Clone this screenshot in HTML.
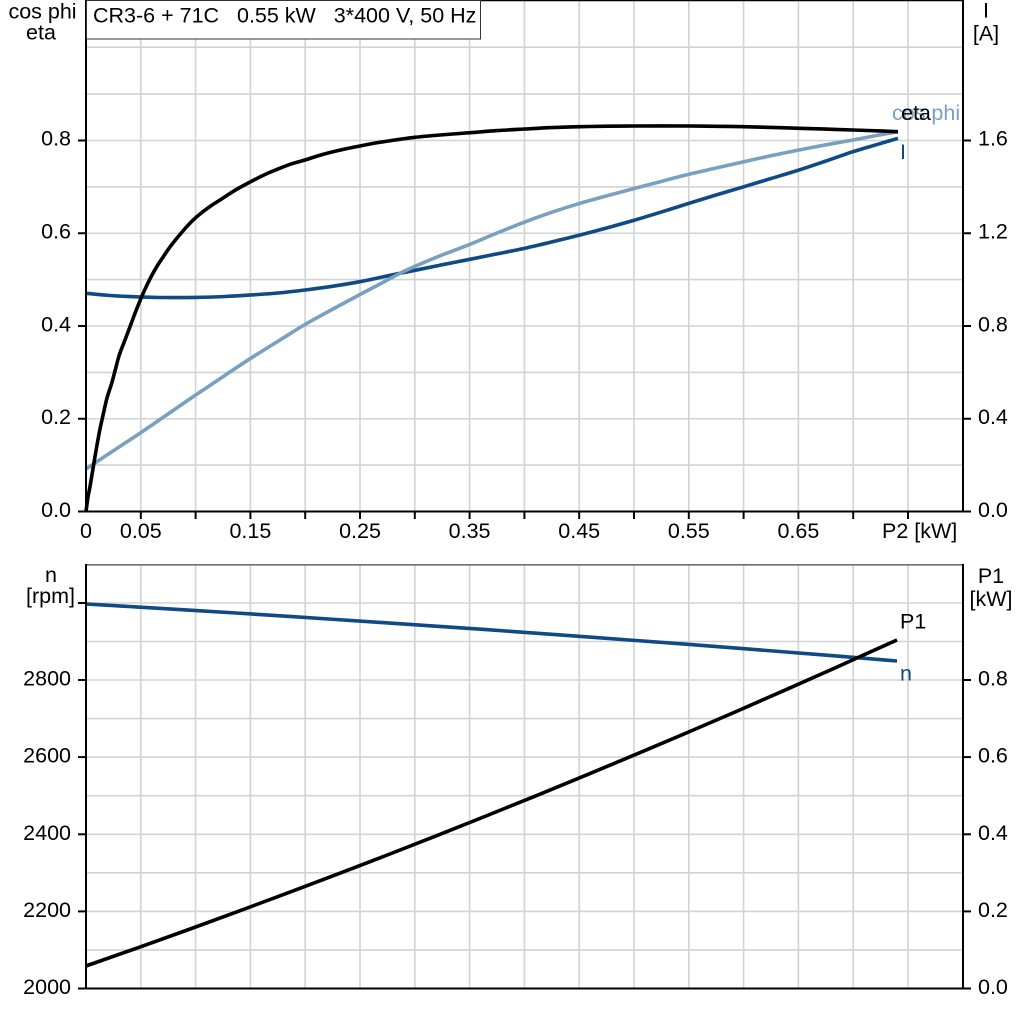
<!DOCTYPE html>
<html>
<head>
<meta charset="utf-8">
<style>
  html,body{margin:0;padding:0;background:#fff;}
  svg{display:block;}
  text{font-family:"Liberation Sans", Arial, sans-serif; font-size:21.5px; fill:#000;}
</style>
</head>
<body>
<svg id="chart" width="1024" height="1024" viewBox="0 0 1024 1024" xmlns="http://www.w3.org/2000/svg">
  <rect x="0" y="0" width="1024" height="1024" fill="#fff"/>

  <!-- ================= TOP CHART ================= -->
  <g stroke="#d2d3d5" stroke-width="1.6" fill="none">
    <line x1="140.8" y1="0" x2="140.8" y2="511.5"/>
    <line x1="195.6" y1="0" x2="195.6" y2="511.5"/>
    <line x1="250.4" y1="0" x2="250.4" y2="511.5"/>
    <line x1="305.2" y1="0" x2="305.2" y2="511.5"/>
    <line x1="360" y1="0" x2="360" y2="511.5"/>
    <line x1="414.8" y1="0" x2="414.8" y2="511.5"/>
    <line x1="469.6" y1="0" x2="469.6" y2="511.5"/>
    <line x1="524.4" y1="0" x2="524.4" y2="511.5"/>
    <line x1="579.2" y1="0" x2="579.2" y2="511.5"/>
    <line x1="634" y1="0" x2="634" y2="511.5"/>
    <line x1="688.8" y1="0" x2="688.8" y2="511.5"/>
    <line x1="743.6" y1="0" x2="743.6" y2="511.5"/>
    <line x1="798.4" y1="0" x2="798.4" y2="511.5"/>
    <line x1="853.2" y1="0" x2="853.2" y2="511.5"/>
    <line x1="908" y1="0" x2="908" y2="511.5"/>
    <line x1="86" y1="465.1" x2="963" y2="465.1"/>
    <line x1="86" y1="418.75" x2="963" y2="418.75"/>
    <line x1="86" y1="372.4" x2="963" y2="372.4"/>
    <line x1="86" y1="326" x2="963" y2="326"/>
    <line x1="86" y1="279.6" x2="963" y2="279.6"/>
    <line x1="86" y1="233.25" x2="963" y2="233.25"/>
    <line x1="86" y1="186.9" x2="963" y2="186.9"/>
    <line x1="86" y1="140.5" x2="963" y2="140.5"/>
    <line x1="86" y1="94.1" x2="963" y2="94.1"/>
    <line x1="86" y1="47.2" x2="963" y2="47.2"/>
  </g>

  <line x1="86" y1="0.5" x2="963" y2="0.5" stroke="#000" stroke-width="1.5"/>

  <g fill="none" stroke-width="3.6" stroke-linejoin="round" stroke-linecap="butt">
    <polyline class="smooth" stroke="#0e4a83" points="86,293.3 110,295.5 140.7,297 160,297.5 195.7,297.4 225,296.5 250.7,295 278,293 305,290 333,286.2 360,281.7 380,277.5 400,273.3 415,270.3 440,265.2 470,259.3 497,253.9 525,248.2 552,241.9 580,235 608,227.6 635,220 662,211.8 689,203.3 716,195 744,186.7 771,178.5 799,170 826,161 853,151.7 876,144.8 898,138.3"/>
    <polyline class="smooth" stroke="#7aa0c0" points="86,469 113,451 140.7,432.7 168,414 195.7,395 223,376.7 250.7,358.3 280,340 305,324.5 333,309 360,294.5 380,284 400,273.3 415,266.3 440,255.8 470,244.3 497,233 525,221.9 552,212.2 580,203.3 608,195.5 635,188.3 662,181.2 689,174.3 716,168 744,161.7 771,155.7 799,150 826,144.8 853,140 876,135.6 898,131.7"/>
    <polyline class="smooth" stroke="#000" points="86,511.5 88,497 90,486.7 93.3,466.7 97,445 100,429 102.7,416.7 107,398 111.7,383.3 115.5,369 119.3,355 125,340 130,326.7 135.5,312 141.7,296.7 146.5,286 152,275 157.5,265.5 163.3,256.7 169,248.3 175,240.5 181,233.3 186.7,226.7 193,220.2 200,214 210,206.5 220,200 235,190.3 250.7,181.7 265,174.5 280,168.2 292,163.7 305,160 317,156.1 330,152.5 345,149 360,146 372,143.6 385,141.5 400,139.3 415,137.3 440,135 470,132.7 497,130.6 525,129 552,127.6 580,126.7 608,126.2 635,126 662,125.9 689,126 716,126.3 744,126.7 771,127.4 799,128.3 826,129.1 853,130 876,130.8 898,131.7"/>
  </g>

  <text x="892" y="120" style="fill:#7aa0c0">cos phi</text>
  <text x="901" y="120">eta</text>
  <text x="900" y="159" style="fill:#0e4a83">I</text>

  <g stroke="#000" stroke-width="2" fill="none">
    <line x1="86" y1="0" x2="86" y2="512.5"/>
    <line x1="963" y1="0" x2="963" y2="512.5"/>
    <line x1="85" y1="511.5" x2="964" y2="511.5"/>
    <line x1="78" y1="511.5" x2="86" y2="511.5"/>
    <line x1="78" y1="418.75" x2="86" y2="418.75"/>
    <line x1="78" y1="326" x2="86" y2="326"/>
    <line x1="78" y1="233.25" x2="86" y2="233.25"/>
    <line x1="78" y1="140.5" x2="86" y2="140.5"/>
    <line x1="963" y1="511.5" x2="971" y2="511.5"/>
    <line x1="963" y1="418.75" x2="971" y2="418.75"/>
    <line x1="963" y1="326" x2="971" y2="326"/>
    <line x1="963" y1="233.25" x2="971" y2="233.25"/>
    <line x1="963" y1="140.5" x2="971" y2="140.5"/>
    <line x1="140.8" y1="511.5" x2="140.8" y2="519"/>
    <line x1="195.6" y1="511.5" x2="195.6" y2="519"/>
    <line x1="250.4" y1="511.5" x2="250.4" y2="519"/>
    <line x1="305.2" y1="511.5" x2="305.2" y2="519"/>
    <line x1="360" y1="511.5" x2="360" y2="519"/>
    <line x1="414.8" y1="511.5" x2="414.8" y2="519"/>
    <line x1="469.6" y1="511.5" x2="469.6" y2="519"/>
    <line x1="524.4" y1="511.5" x2="524.4" y2="519"/>
    <line x1="579.2" y1="511.5" x2="579.2" y2="519"/>
    <line x1="634" y1="511.5" x2="634" y2="519"/>
    <line x1="688.8" y1="511.5" x2="688.8" y2="519"/>
    <line x1="743.6" y1="511.5" x2="743.6" y2="519"/>
    <line x1="798.4" y1="511.5" x2="798.4" y2="519"/>
    <line x1="853.2" y1="511.5" x2="853.2" y2="519"/>
    <line x1="908" y1="511.5" x2="908" y2="519"/>
  </g>

  <rect x="86.5" y="0.5" width="394" height="38.5" fill="#fff" stroke="#333" stroke-width="1"/>
  <text x="93" y="22.5">CR3-6 + 71C&#160;&#160;&#160;0.55 kW&#160;&#160;&#160;3*400 V, 50 Hz</text>

  <text x="42.5" y="18.5" text-anchor="middle">cos phi</text>
  <text x="41" y="39.5" text-anchor="middle">eta</text>
  <text x="986" y="17.5" text-anchor="middle">I</text>
  <text x="986" y="40.5" text-anchor="middle">[A]</text>

  <g text-anchor="end">
    <text x="71" y="517">0.0</text>
    <text x="71" y="424">0.2</text>
    <text x="71" y="331.5">0.4</text>
    <text x="71" y="238.5">0.6</text>
    <text x="71" y="145.5">0.8</text>
  </g>
  <g>
    <text x="978" y="517">0.0</text>
    <text x="978" y="424">0.4</text>
    <text x="978" y="331.5">0.8</text>
    <text x="978" y="238.5">1.2</text>
    <text x="978" y="145.5">1.6</text>
  </g>
  <g text-anchor="middle">
    <text x="86" y="538">0</text>
    <text x="140.8" y="538">0.05</text>
    <text x="250.4" y="538">0.15</text>
    <text x="360" y="538">0.25</text>
    <text x="469.6" y="538">0.35</text>
    <text x="579.2" y="538">0.45</text>
    <text x="688.8" y="538">0.55</text>
    <text x="798.4" y="538">0.65</text>
  </g>
  <text x="882" y="538">P2 [kW]</text>

  <!-- ================= BOTTOM CHART ================= -->
  <g stroke="#d2d3d5" stroke-width="1.6" fill="none">
    <line x1="140.8" y1="565" x2="140.8" y2="988.5"/>
    <line x1="195.6" y1="565" x2="195.6" y2="988.5"/>
    <line x1="250.4" y1="565" x2="250.4" y2="988.5"/>
    <line x1="305.2" y1="565" x2="305.2" y2="988.5"/>
    <line x1="360" y1="565" x2="360" y2="988.5"/>
    <line x1="414.8" y1="565" x2="414.8" y2="988.5"/>
    <line x1="469.6" y1="565" x2="469.6" y2="988.5"/>
    <line x1="524.4" y1="565" x2="524.4" y2="988.5"/>
    <line x1="579.2" y1="565" x2="579.2" y2="988.5"/>
    <line x1="634" y1="565" x2="634" y2="988.5"/>
    <line x1="688.8" y1="565" x2="688.8" y2="988.5"/>
    <line x1="743.6" y1="565" x2="743.6" y2="988.5"/>
    <line x1="798.4" y1="565" x2="798.4" y2="988.5"/>
    <line x1="853.2" y1="565" x2="853.2" y2="988.5"/>
    <line x1="908" y1="565" x2="908" y2="988.5"/>
    <line x1="86" y1="949.9" x2="963" y2="949.9"/>
    <line x1="86" y1="911.4" x2="963" y2="911.4"/>
    <line x1="86" y1="872.8" x2="963" y2="872.8"/>
    <line x1="86" y1="834.3" x2="963" y2="834.3"/>
    <line x1="86" y1="795.7" x2="963" y2="795.7"/>
    <line x1="86" y1="757.1" x2="963" y2="757.1"/>
    <line x1="86" y1="718.6" x2="963" y2="718.6"/>
    <line x1="86" y1="680" x2="963" y2="680"/>
    <line x1="86" y1="641.5" x2="963" y2="641.5"/>
    <line x1="86" y1="603" x2="963" y2="603"/>
  </g>

  <line x1="86" y1="564.8" x2="963" y2="564.8" stroke="#6e6e6e" stroke-width="1.6"/>

  <g fill="none" stroke-width="3.6" stroke-linejoin="round">
    <polyline stroke="#0e4a83" points="86,604 136,606.9 186,609.9 236,613 286,616.2 336,619.5 386,622.8 436,626.2 486,629.6 536,633.2 586,636.8 636,640.5 686,644.2 736,648.1 786,652 836,655.9 897,661"/>
    <polyline stroke="#000" points="86,966 136,948.4 186,930.5 236,912.2 286,893.6 336,874.7 386,855.5 436,835.9 486,816 536,795.8 586,775.2 636,754.3 686,733.1 736,711.6 786,689.7 836,667.5 866,653.9 897,640"/>
  </g>
  <text x="900" y="628.5">P1</text>
  <text x="900" y="680.5" style="fill:#0e4a83">n</text>

  <g stroke="#000" stroke-width="2" fill="none">
    <line x1="86" y1="564" x2="86" y2="989.5"/>
    <line x1="963" y1="564" x2="963" y2="989.5"/>
    <line x1="85" y1="988.5" x2="964" y2="988.5"/>
    <line x1="78" y1="988.5" x2="86" y2="988.5"/>
    <line x1="78" y1="911.4" x2="86" y2="911.4"/>
    <line x1="78" y1="834.3" x2="86" y2="834.3"/>
    <line x1="78" y1="757.1" x2="86" y2="757.1"/>
    <line x1="78" y1="680" x2="86" y2="680"/>
    <line x1="78" y1="603" x2="86" y2="603"/>
    <line x1="963" y1="988.5" x2="971" y2="988.5"/>
    <line x1="963" y1="911.4" x2="971" y2="911.4"/>
    <line x1="963" y1="834.3" x2="971" y2="834.3"/>
    <line x1="963" y1="757.1" x2="971" y2="757.1"/>
    <line x1="963" y1="680" x2="971" y2="680"/>
  </g>

  <text x="51" y="582" text-anchor="middle">n</text>
  <text x="50.5" y="603" text-anchor="middle">[rpm]</text>
  <text x="991" y="583" text-anchor="middle">P1</text>
  <text x="991" y="606" text-anchor="middle">[kW]</text>

  <g text-anchor="end">
    <text x="71" y="994">2000</text>
    <text x="71" y="917">2200</text>
    <text x="71" y="840">2400</text>
    <text x="71" y="762.5">2600</text>
    <text x="71" y="685.5">2800</text>
  </g>
  <g>
    <text x="978" y="994">0.0</text>
    <text x="978" y="917">0.2</text>
    <text x="978" y="840">0.4</text>
    <text x="978" y="762.5">0.6</text>
    <text x="978" y="685.5">0.8</text>
  </g>
</svg>
<script>
(function(){
  try{
    var ns="http://www.w3.org/2000/svg";
    var pls=document.querySelectorAll("polyline.smooth");
    for(var k=0;k<pls.length;k++){
      var pl=pls[k];
      var raw=pl.getAttribute("points").trim().split(/\s+/);
      var P=raw.map(function(s){var a=s.split(",");return [parseFloat(a[0]),parseFloat(a[1])];});
      var n=P.length;
      var d="M"+P[0][0]+","+P[0][1];
      for(var i=0;i<n-1;i++){
        var p0=P[i>0?i-1:i],p1=P[i],p2=P[i+1],p3=P[i+2<n?i+2:i+1];
        var c1x=p1[0]+(p2[0]-p0[0])/6,c1y=p1[1]+(p2[1]-p0[1])/6;
        var c2x=p2[0]-(p3[0]-p1[0])/6,c2y=p2[1]-(p3[1]-p1[1])/6;
        d+=" C"+c1x.toFixed(2)+","+c1y.toFixed(2)+" "+c2x.toFixed(2)+","+c2y.toFixed(2)+" "+p2[0]+","+p2[1];
      }
      var path=document.createElementNS(ns,"path");
      path.setAttribute("d",d);
      path.setAttribute("stroke",pl.getAttribute("stroke"));
      path.setAttribute("fill","none");
      pl.parentNode.replaceChild(path,pl);
    }
  }catch(e){}
})();
</script>
</body>
</html>
